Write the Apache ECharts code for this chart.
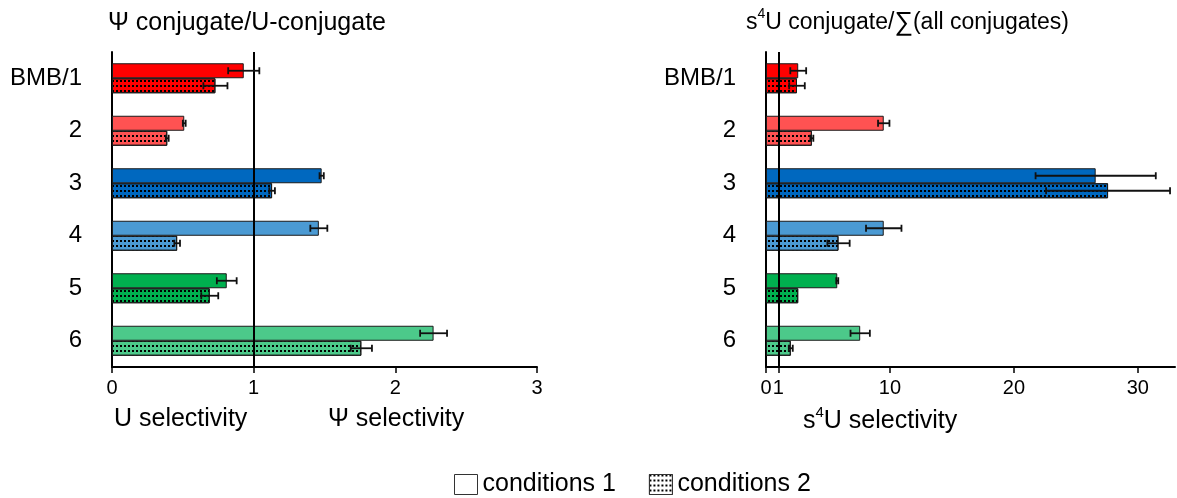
<!DOCTYPE html>
<html><head><meta charset="utf-8">
<script src="https://cdn.jsdelivr.net/npm/echarts@6/dist/echarts.min.js"></script>
<style>html,body{margin:0;padding:0;background:#fff}#c{width:1177px;height:498px}</style>
</head><body><div id="c"></div>
<script>
const categories = ['BMB/1', '2', '3', '4', '5', '6'];
const groupColors = ['#FF0000', '#FF5252', '#0068BF', '#4B9AD3', '#00B04F', '#4CC98A'];
const psiCond1 = [0.93, 0.51, 1.48, 1.46, 0.81, 2.27];
const psiCond1Err = [0.11, 0.01, 0.015, 0.06, 0.07, 0.095];
const psiCond2 = [0.73, 0.39, 1.13, 0.46, 0.69, 1.76];
const psiCond2Err = [0.085, 0.01, 0.02, 0.02, 0.06, 0.075];
const s4uCond1 = [2.6, 9.5, 26.6, 9.5, 5.75, 7.6];
const s4uCond1Err = [0.64, 0.46, 4.85, 1.43, 0.08, 0.78];
const s4uCond2 = [2.5, 3.7, 27.6, 5.85, 2.6, 2.0];
const s4uCond2Err = [0.63, 0.12, 5.0, 0.9, 0, 0.16];
const psiTicks = [0, 1, 2, 3];
const s4uTicks = [0, 1, 10, 20, 30];
const legendNames = ['conditions 1', 'conditions 2'];

const FONT = "'Liberation Sans', Arial, sans-serif";
const dotDecal = {
  symbol: 'rect', symbolSize: 1, color: '#000',
  dashArrayX: [2, 2], dashArrayY: [2, 3], rotation: 0, symbolKeepAspect: true
};

function barData(vals) {
  return vals.map((v, i) => ({ value: v, itemStyle: { color: groupColors[i] } }));
}
function errData(vals, errs) {
  return vals.map((v, i) => [v, i, errs[i]]);
}
function errRender(offset) {
  return function (params, api) {
    const v = api.value(0), cat = api.value(1), e = api.value(2);
    if (!e) return null;
    const lo = api.coord([v - e, cat]);
    const hi = api.coord([v + e, cat]);
    const y = lo[1] + offset;
    const st = { stroke: '#111', lineWidth: 1.8 };
    return {
      type: 'group', children: [
        { type: 'line', shape: { x1: lo[0], y1: y, x2: hi[0], y2: y }, style: st },
        { type: 'line', shape: { x1: lo[0], y1: y - 3.5, x2: lo[0], y2: y + 3.5 }, style: st },
        { type: 'line', shape: { x1: hi[0], y1: y - 3.5, x2: hi[0], y2: y + 3.5 }, style: st }
      ]
    };
  };
}
const refLine = {
  silent: true, symbol: 'none', label: { show: false },
  lineStyle: { color: '#000', width: 2, type: 'solid' },
  data: [{ xAxis: 1 }]
};

function xAxisCfg(gi, max, ticks) {
  return {
    gridIndex: gi, type: 'value', min: 0, max: max,
    splitLine: { show: false },
    axisLine: { show: true, onZero: false, lineStyle: { color: '#000', width: 2 } },
    axisTick: { show: true, length: 6, lineStyle: { color: '#000', width: 1.5 }, customValues: ticks },
    axisLabel: { color: '#000', fontSize: 20, fontFamily: FONT, margin: 11, customValues: ticks }
  };
}
function yAxisCfg(gi) {
  return {
    gridIndex: gi, type: 'category', data: categories, inverse: true,
    axisLine: { show: true, lineStyle: { color: '#000', width: 2 } },
    axisTick: { show: false },
    axisLabel: { color: '#000', fontSize: 24, fontFamily: FONT, margin: 30 }
  };
}
function barSeries(name, xi, vals, decal) {
  const s = {
    name: name, type: 'bar', xAxisIndex: xi, yAxisIndex: xi,
    barWidth: 15, barGap: '0%',
    itemStyle: { color: '#fff', borderColor: '#1a1a1a', borderWidth: 1 },
    data: barData(vals)
  };
  if (decal) s.itemStyle.decal = decal;
  return s;
}
function errSeries(xi, vals, errs, offset, withRef) {
  const s = {
    type: 'custom', xAxisIndex: xi, yAxisIndex: xi, z: 5, clip: false,
    renderItem: errRender(offset), encode: { x: 0, y: 1 },
    data: errData(vals, errs), silent: true
  };
  if (withRef) s.markLine = refLine;
  return s;
}

const chart = echarts.init(document.getElementById('c'), null, { renderer: 'canvas' });
chart.setOption({
  backgroundColor: '#fff',
  animation: false,
  textStyle: { fontFamily: FONT },
  title: [
    { text: 'Ψ conjugate/U-conjugate', left: 103, top: 6,
      textStyle: { fontSize: 25, fontWeight: 'normal', color: '#000', fontFamily: FONT } },
    { text: 's{sup|4}U conjugate/{sig|∑}(all conjugates)', left: 741, top: 2,
      textStyle: { fontSize: 23, fontWeight: 'normal', color: '#000', fontFamily: FONT,
        rich: { sup: { fontSize: 14, verticalAlign: 'top', padding: [0, 0, 17, 0], color: '#000', fontFamily: FONT },
                sig: { fontSize: 26, color: '#000', fontFamily: FONT } } } },
    { text: 's{sup|4}U selectivity', left: 798, top: 400,
      textStyle: { fontSize: 25, fontWeight: 'normal', color: '#000', fontFamily: FONT,
        rich: { sup: { fontSize: 15, verticalAlign: 'top', padding: [0, 0, 18, 0], color: '#000', fontFamily: FONT } } } }
  ],
  legend: {
    left: 449, top: 467, itemWidth: 23, itemHeight: 20, itemGap: 33, icon: 'rect',
    data: legendNames, selectedMode: false,
    textStyle: { fontSize: 25, color: '#000', fontFamily: FONT },
    itemStyle: { borderColor: '#333', borderWidth: 1 }
  },
  grid: [
    { left: 112, right: 640, top: 52, bottom: 131 },
    { left: 766, right: 2, top: 52, bottom: 131 }
  ],
  xAxis: [xAxisCfg(0, 3, psiTicks), xAxisCfg(1, 33, s4uTicks)],
  yAxis: [yAxisCfg(0), yAxisCfg(1)],
  graphic: [
    { type: 'text', left: 114, top: 407, style: { text: 'U selectivity', fontSize: 25, fill: '#000', fontFamily: FONT } },
    { type: 'text', left: 328, top: 407, style: { text: 'Ψ selectivity', fontSize: 25, fill: '#000', fontFamily: FONT } }
  ],
  series: [
    barSeries(legendNames[0], 0, psiCond1, null),
    barSeries(legendNames[1], 0, psiCond2, dotDecal),
    errSeries(0, psiCond1, psiCond1Err, -7.5, true),
    errSeries(0, psiCond2, psiCond2Err, 7.5, false),
    barSeries(legendNames[0], 1, s4uCond1, null),
    barSeries(legendNames[1], 1, s4uCond2, dotDecal),
    errSeries(1, s4uCond1, s4uCond1Err, -7.5, true),
    errSeries(1, s4uCond2, s4uCond2Err, 7.5, false)
  ]
});
</script></body></html>
